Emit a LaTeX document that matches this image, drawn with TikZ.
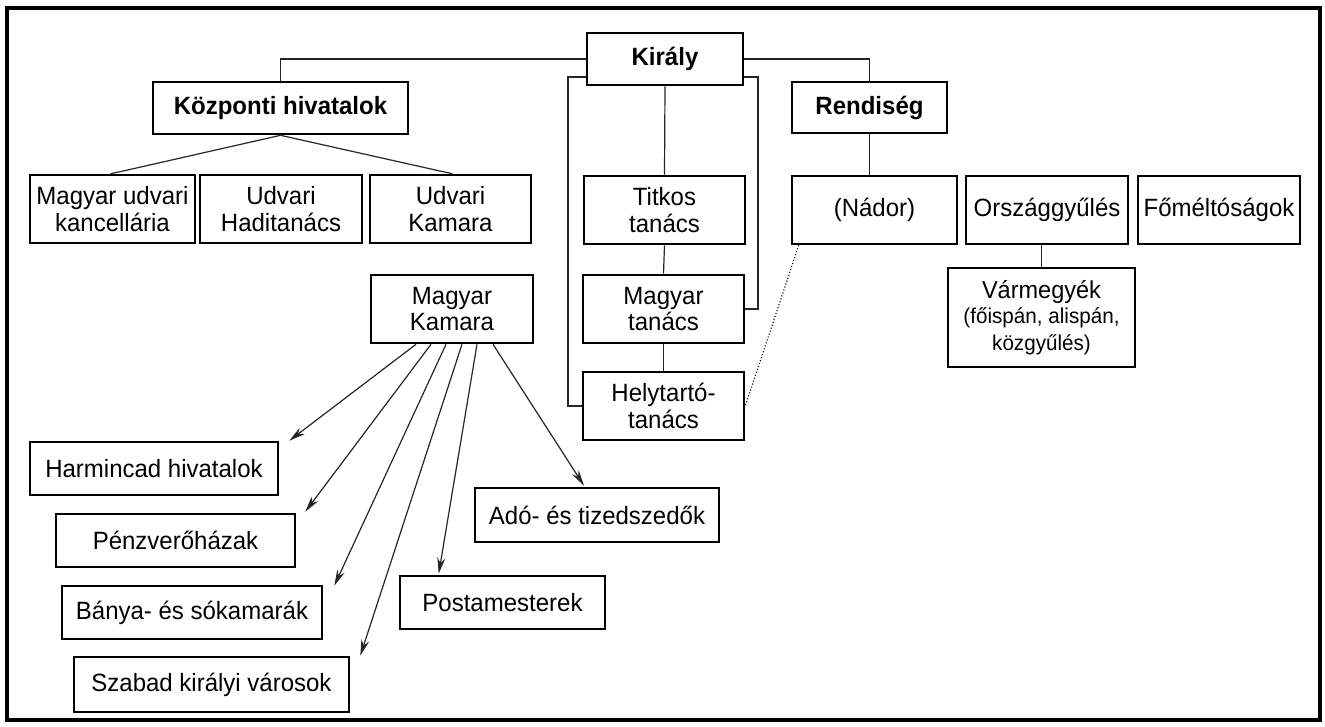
\documentclass[tikz,border=0pt]{standalone}
\usepackage{fontspec}
\setmainfont{Liberation Sans}[FakeStretch=0.96]
\usetikzlibrary{calc,arrows.meta}
\begin{document}
\begin{tikzpicture}[x=1pt,y=-1pt,
  box/.style={draw=black,line width=2.6pt,fill=white,align=center,inner sep=0pt,
    font=\fontsize{25}{26.5}\selectfont},
  bbox/.style={box,font=\fontsize{25}{26.5}\selectfont\bfseries},
  conn/.style={line width=1.2pt,black!85},
  arr/.style={conn,-{Stealth[length=16pt,width=8pt]}},
  dot/.style={line width=1.1pt,dotted}]
\useasboundingbox (0,0) rectangle (1325,726);
\draw[line width=4pt] (7,8) rectangle (1320,720);
% top level
\node[bbox,minimum width=156pt,minimum height=52pt] (kiraly) at (665,59) {Király};
\node[bbox,minimum width=255pt,minimum height=52pt] (kozp) at (280.5,108) {Központi hivatalok};
\node[bbox,minimum width=155pt,minimum height=51pt] (rend) at (869.5,107.5) {Rendiség};
% second row
\node[box,minimum width=165pt,minimum height=68pt] (mud) at (112.5,209) {Magyar udvari\\kancellária};
\node[box,minimum width=162pt,minimum height=68pt] (uhad) at (281,209) {Udvari\\Haditanács};
\node[box,minimum width=161pt,minimum height=68pt] (ukam) at (450.5,209) {Udvari\\Kamara};
\node[box,minimum width=161pt,minimum height=68pt] (titkos) at (664.5,210) {Titkos\\tanács};
\node[box,minimum width=165pt,minimum height=68pt] (nador) at (874.5,210) {(Nádor)};
\node[box,minimum width=162pt,minimum height=68pt] (orsz) at (1047,210) {Országgyűlés};
\node[box,minimum width=162pt,minimum height=68pt] (fomelt) at (1219,210) {Főméltóságok};
% third row
\node[box,minimum width=162pt,minimum height=68pt] (mkam) at (452,309) {Magyar\\Kamara};
\node[box,minimum width=161pt,minimum height=68pt] (mtan) at (663.5,309) {Magyar\\tanács};
\node[box,minimum width=161pt,minimum height=68pt] (helyt) at (663.5,406) {Helytartó-\\tanács};
\node[box,minimum width=187pt,minimum height=99pt] (varm) at (1041.5,317.5)
  {\fontsize{24.5}{25}\selectfont Vármegyék\\[-1pt]\fontsize{21.5}{21}\selectfont (főispán, alispán,\\\fontsize{21.5}{21}\selectfont közgyűlés)};
% lower boxes
\node[box,minimum width=248pt,minimum height=53pt] (harm) at (154,468.5) {Harmincad hivatalok};
\node[box,minimum width=239pt,minimum height=53pt] (penz) at (175.5,540.5) {Pénzverőházak};
\node[box,minimum width=260pt,minimum height=53pt] (banya) at (192,612.5) {Bánya- és sókamarák};
\node[box,minimum width=275pt,minimum height=55pt] (szab) at (211.5,684.5) {Szabad királyi városok};
\node[box,minimum width=205pt,minimum height=53pt] (posta) at (502.5,602.5) {Postamesterek};
\node[box,minimum width=244pt,minimum height=54pt] (ado) at (597,515) {Adó- és tizedszedők};
% connectors from Király
\draw[conn] (kiraly.west) -- (kozp.north |- kiraly.west) -- (kozp.north);
\draw[conn] (kiraly.east) -- (rend.north |- kiraly.east) -- (rend.north);
\draw[conn] (kiraly.south) -- (titkos.north);
\coordinate (bl) at (568,77);
\coordinate (br) at (758,77);
\draw[conn] (kiraly.west |- bl) -- (bl) -- (bl |- helyt.west) -- (helyt.west);
\draw[conn] (kiraly.east |- br) -- (br) -- (br |- mtan.east) -- (mtan.east);
\draw[conn] (titkos.south) -- (mtan.north);
\draw[conn] (mtan.south) -- (helyt.north);
% Központi hivatalok
\coordinate (k1) at ($(mud.north)+(12,-3)$);
\coordinate (k2) at ($(ukam.north)+(-12,-3)$);
\draw[conn] (kozp.south) -- (k1) -- ($(mud.north)+(-2,0)$);
\draw[conn] (kozp.south) -- (k2) -- ($(ukam.north)+(2,0)$);
% Rendiség
\draw[conn] (rend.south) -- (rend.south |- nador.north);
\draw[conn] (varm.north |- orsz.south) -- (varm.north);
\draw[dot] ($(nador.south west)+(8,0)$) -- (helyt.east);
% Magyar Kamara arrows
\draw[arr] ($(mkam.south)+(-36,0)$) -- ($(harm.north east)+(10,0)$);
\draw[arr] ($(mkam.south)+(-21,0)$) -- ($(penz.north east)+(9,-1)$);
\draw[arr] ($(mkam.south)+(-6,0)$) -- ($(banya.north east)+(11,1)$);
\draw[arr] ($(mkam.south)+(10,0)$) -- ($(szab.north east)+(10,0)$);
\draw[arr] ($(mkam.south)+(25,0)$) -- ($(posta.north west)+(40,-1)$);
\draw[arr] ($(mkam.south)+(41,0)$) -- ($(ado.north)+(-13,-1)$);
\end{tikzpicture}
\end{document}
